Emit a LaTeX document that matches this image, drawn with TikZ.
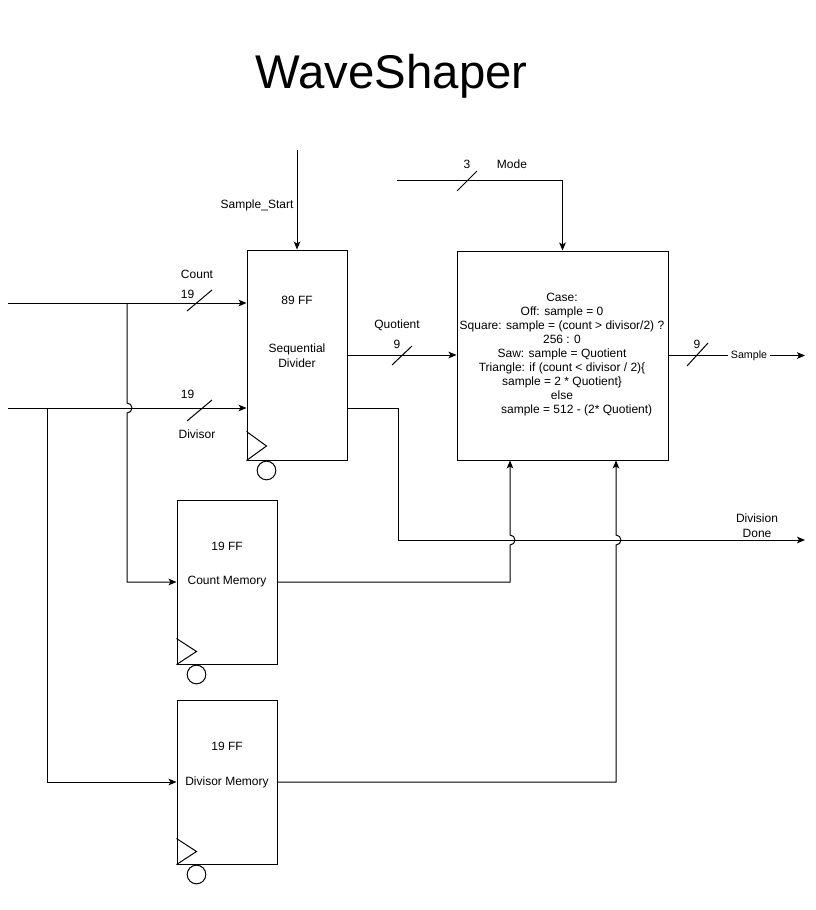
\documentclass[tikz,border=0pt]{standalone}
\usepackage{fontspec}
\setmainfont{Liberation Sans}
\usetikzlibrary{arrows.meta,calc}

\tikzset{
  block/.style={draw, line width=0.75pt, inner sep=0pt},
  wire/.style={line width=0.75pt},
  sig/.style={wire, -{Stealth[length=6pt, width=5pt, inset=1.5pt]}},
  lbl/.style={font=\fontsize{9}{10.5}\selectfont, inner sep=0pt},
}

\begin{document}
\begin{tikzpicture}[x=0.75pt, y=-0.75pt]
\useasboundingbox (0,0) rectangle (816,910);

\node[font=\fontsize{35.5}{42}\selectfont] (title) at (391.5,76) {WaveShaper};

% blocks
\node[block, minimum width=75pt, minimum height=157.5pt] (div) at (297,355) {};
\node[block, minimum width=75pt, minimum height=123pt] (cmem) at (227,582) {};
\node[block, minimum width=75pt, minimum height=123pt] (dmem) at (227,782) {};
\node[block, minimum width=158.25pt, minimum height=156.75pt] (wave) at (562.5,355.5) {};

% clock marks
\draw[wire] (div.south west) ++(0,-29) -- ++(20,14.5) -- (div.south west);
\draw[wire] (div.south west) ++(20,10) circle (7pt);
\draw[wire] (cmem.south west) ++(0,-26) -- ++(20,13) -- (cmem.south west);
\draw[wire] (cmem.south west) ++(20,10) circle (7pt);
\draw[wire] (dmem.south west) ++(0,-26) -- ++(20,13) -- (dmem.south west);
\draw[wire] (dmem.south west) ++(20,10) circle (7pt);

% block texts
\node[lbl] (divff) at (297,300) {89 FF};
\node[lbl, align=center, font=\fontsize{9}{11.25}\selectfont] (divname) at (297,355.5) {Sequential\\Divider};
\node[lbl] (cmemff) at (227,546) {19 FF};
\node[lbl] (cmemname) at (227,582) {Count Memory};
\node[lbl] (dmemff) at (227,746) {19 FF};
\node[lbl] (dmemname) at (227,782) {Divisor Memory};
\node[lbl, align=center] (wavecase) at (562,355) {Case:\\
  Off: sample = 0\\
  Square: sample = (count > divisor/2) ?\\
  256 : 0\\
  Saw: sample = Quotient\\
  Triangle: if (count < divisor / 2)\{\\
  sample = 2 * Quotient\}\\
  else\\
  \hspace*{22pt}sample = 512 - (2* Quotient)};

% free ends
\coordinate (cntin) at (8,303);
\coordinate (divin) at (8,408);
\coordinate (cntsplit) at (127,303);
\coordinate (divsplit) at (47,408);
\coordinate (ssin) at (297,150);
\coordinate (modein) at (397,180);
\coordinate (sampout) at (805,355.5);
\coordinate (donebend) at (398,408);
\coordinate (doneout) at (805,540);
\coordinate (cmemup) at (510,540);
\coordinate (dmemup) at (616,540);

% connectors
\draw[sig] (cntin) -- (cntin -| div.west);
\draw[sig] (divin) -- (divin -| div.west);
\draw[sig] (cntsplit) -- ($(cntsplit |- divin)+(0,-5)$) arc (90:-90:3.75pt) |- (cmem.west);
\draw[sig] (divsplit) |- (dmem.west);
\draw[sig] (ssin) -- (div.north);
\draw[sig] (modein) -| (wave.north);
\draw[sig] (div.east) -- (div.east -| wave.west);
\draw[sig] (wave.east) -- (sampout);
\draw[sig] (div.east |- divin) -- (donebend) |- (doneout);
\draw[sig] (cmem.east) -| ($(cmemup)+(0,5)$) arc (-90:90:3.75pt) -- (cmemup |- wave.south);
\draw[sig] (dmem.east) -| ($(dmemup)+(0,5)$) arc (-90:90:3.75pt) -- (dmemup |- wave.south);

% bus widths
\draw[wire] (187,311) -- (212,290);
\draw[wire] (187,421) -- (212,400);
\draw[wire] (392,365) -- (412,346);
\draw[wire] (687,366) -- (708,343);
\draw[wire] (457,191) -- (477,171);

% labels
\node[lbl] (cntlbl) at (197,274) {Count};
\node[lbl] (cntw) at (187.5,294) {19};
\node[lbl] (divw) at (187.5,394) {19};
\node[lbl] (divlbl) at (197,434) {Divisor};
\node[lbl] (sslbl) at (257,205) {Sample\_Start};
\node[lbl] (modew) at (467,164) {3};
\node[lbl] (modelbl) at (512,164) {Mode};
\node[lbl] (quolbl) at (397,325) {Quotient};
\node[lbl] (quow) at (397,344) {9};
\node[lbl] (sampw) at (697,344) {9};
\node[lbl, fill=white, inner sep=2pt, font=\fontsize{8}{9}\selectfont] (samplbl) at (749,355.5) {Sample};
\node[lbl, align=center, font=\fontsize{9}{11.25}\selectfont] (donelbl) at (757,525.5) {Division\\Done};
\end{tikzpicture}
\end{document}
